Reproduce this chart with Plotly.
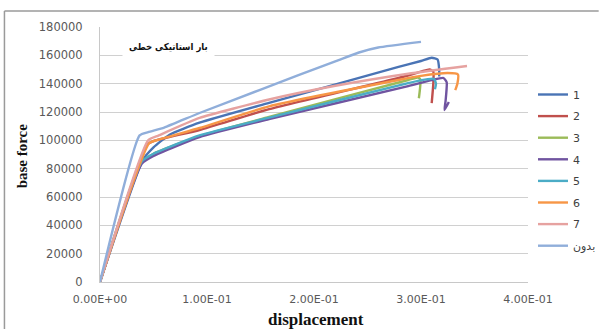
import plotly.graph_objects as go

# Pushover curves: base force vs displacement for each case
names = ["1", "2", "3", "4", "5", "6", "7", "بدون"]
colors = ["#4A74B5", "#C0504D", "#9BBB59", "#7054A0", "#4BACC6", "#F79646", "#E6A2A0", "#90AEDA"]

disp_1 = [0, 0.040, 0.050, 0.065, 0.093, 0.158, 0.279, 0.300, 0.310, 0.3155, 0.317, 0.317]
force_1 = [0, 86000, 95000, 104000, 112500, 126500, 151800, 156000, 158300, 157000, 150000, 145000]

disp_2 = [0, 0.044, 0.050, 0.093, 0.158, 0.279, 0.300, 0.308, 0.3115, 0.3115, 0.310]
force_2 = [0, 97000, 99500, 107300, 122000, 144000, 148500, 150100, 148500, 140000, 126300]

disp_3 = [0, 0.038, 0.050, 0.093, 0.158, 0.288, 0.297, 0.2995, 0.299, 0.298]
force_3 = [0, 84000, 90500, 103000, 116500, 142600, 144300, 143000, 136000, 129700]

disp_4 = [0, 0.039, 0.050, 0.093, 0.158, 0.288, 0.310, 0.321, 0.324, 0.323, 0.322, 0.326]
force_4 = [0, 83500, 89000, 102300, 115000, 138300, 142500, 144000, 141000, 128000, 121400, 127000]

disp_5 = [0, 0.039, 0.050, 0.093, 0.158, 0.288, 0.305, 0.312, 0.314, 0.313]
force_5 = [0, 85000, 90500, 103500, 116000, 140400, 143000, 143500, 140000, 136000]

disp_6 = [0, 0.046, 0.055, 0.093, 0.158, 0.279, 0.300, 0.325, 0.3345, 0.334, 0.332]
force_6 = [0, 98000, 100500, 108700, 124000, 142600, 145500, 147500, 146500, 140000, 135500]

disp_7 = [0, 0.045, 0.055, 0.093, 0.158, 0.220, 0.288, 0.343]
force_7 = [0, 100000, 103500, 115800, 128800, 138500, 147000, 152500]

disp_0 = [0, 0.037, 0.045, 0.060, 0.093, 0.149, 0.223, 0.242, 0.260, 0.300]
force_0 = [0, 103500, 105800, 109000, 119300, 135500, 156700, 162000, 165500, 169500]

series_x = [disp_1, disp_2, disp_3, disp_4, disp_5, disp_6, disp_7, disp_0]
series_y = [force_1, force_2, force_3, force_4, force_5, force_6, force_7, force_0]

x_ticks = [0, 0.1, 0.2, 0.3, 0.4]
x_tick_text = ["0.00E+00", "1.00E-01", "2.00E-01", "3.00E-01", "4.00E-01"]
y_ticks = [0, 20000, 40000, 60000, 80000, 100000, 120000, 140000, 160000, 180000]

chart_title = "بار استاتیکی خطی"
x_title = "displacement"
y_title = "base force"

fig = go.Figure()
for nm, col, xs, ys in zip(names, colors, series_x, series_y):
    fig.add_trace(go.Scatter(
        x=xs, y=ys, name=nm, mode="lines",
        line=dict(color=col, width=2.4, shape="spline", smoothing=0.5),
        legendgroup=nm,
    ))

W, H = 601, 329
L, R = 100, 71
plot_top, plot_bottom = 27, 282
pw = W - L - R


def px_x(px):
    return (px - L) / pw


def px_y(py):
    # paper y spans the full height (top/bottom margins are zero)
    return (H - py) / H


fig.update_layout(
    width=W, height=H,
    margin=dict(l=L, r=R, t=0, b=0),
    paper_bgcolor="white", plot_bgcolor="white",
    showlegend=True,
    legend=dict(
        x=px_x(535), y=px_y(80), xanchor="left", yanchor="top",
        font=dict(family="DejaVu Sans", size=11, color="#404040"),
        itemwidth=30, tracegroupgap=2.6,
        bgcolor="rgba(0,0,0,0)",
    ),
    xaxis=dict(
        range=[0, 0.4], tickvals=x_ticks, ticktext=x_tick_text,
        showgrid=False, zeroline=False, automargin=False,
        showline=True, linecolor="#C8C8C8", linewidth=1,
        ticks="", ticklabelstandoff=7,
        tickfont=dict(family="DejaVu Sans", size=11, color="#595959"),
    ),
    yaxis=dict(
        range=[0, 180000], tickvals=y_ticks,
        domain=[(H - plot_bottom) / H, (H - plot_top) / H],
        showgrid=True, gridcolor="#D0D0D0", gridwidth=1,
        zeroline=False, showline=True, linecolor="#C8C8C8", linewidth=1,
        automargin=False,
        ticks="", ticklabelstandoff=14, tickformat="d",
        tickfont=dict(family="DejaVu Sans", size=11.5, color="#595959"),
    ),
    annotations=[
        dict(text=chart_title, x=px_x(169), y=px_y(47), xref="paper", yref="paper",
             xanchor="center", yanchor="middle",
             showarrow=False, bgcolor="white", borderpad=6,
             font=dict(family="DejaVu Sans Condensed, DejaVu Sans", size=9.5,
                       color="#111111", weight="bold")),
        dict(text=x_title, x=px_x(317), y=px_y(319), xref="paper", yref="paper",
             xanchor="center", yanchor="middle", showarrow=False,
             font=dict(family="Liberation Serif", size=17, color="#111111", weight="bold")),
        dict(text=y_title, x=px_x(22), y=px_y(156), xref="paper", yref="paper",
             xanchor="center", yanchor="middle", showarrow=False, textangle=-90,
             font=dict(family="Liberation Serif", size=15, color="#111111", weight="bold")),
    ],
    shapes=[
        dict(type="line", xref="paper", yref="paper",
             x0=px_x(4), x1=px_x(601), y0=px_y(11), y1=px_y(11),
             line=dict(color="#9A9A9A", width=1.5)),
        dict(type="line", xref="paper", yref="paper",
             x0=px_x(4), x1=px_x(4), y0=px_y(11), y1=px_y(330),
             line=dict(color="#9A9A9A", width=1.5)),
    ],
)

fig.write_html("out.html")
